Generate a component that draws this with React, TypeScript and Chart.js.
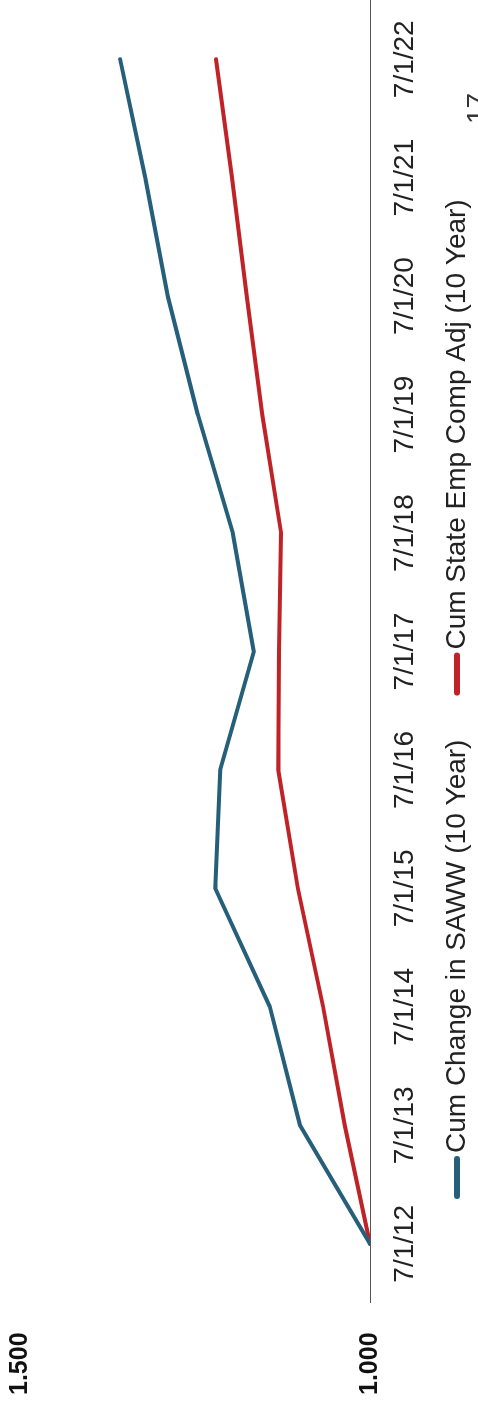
import React, { useEffect, useRef } from 'react';
import { Chart, registerables } from 'chart.js';

Chart.register(...registerables);

const categories = ['7/1/12', '7/1/13', '7/1/14', '7/1/15', '7/1/16', '7/1/17', '7/1/18', '7/1/19', '7/1/20', '7/1/21', '7/1/22'];
const sawwSeries = [1.0, 1.1, 1.143, 1.221, 1.214, 1.166, 1.196, 1.246, 1.289, 1.321, 1.357];
const empCompSeries = [1.0, 1.036, 1.067, 1.103, 1.131, 1.13, 1.127, 1.154, 1.176, 1.197, 1.22];
const seriesLabels = ['Cum Change in SAWW (10 Year)', 'Cum State Emp Comp Adj (10 Year)'];
const seriesColors = ['#255f79', '#bf2328'];
const yTicks = [1.0, 1.5];
const pageNumber = '17';

const FONT = '"Liberation Sans", Arial, sans-serif';

// Legend drawn like the scanned original: long rounded marker right against the text
const scanLegend = {
  id: 'scanLegend',
  afterDraw(chart: any) {
    const ctx = chart.ctx as CanvasRenderingContext2D;
    ctx.save();
    ctx.font = `28px ${FONT}`;
    ctx.textBaseline = 'middle';
    ctx.textAlign = 'left';
    let x = 205;
    const y = 457;
    chart.data.datasets.forEach((ds: any) => {
      ctx.strokeStyle = ds.borderColor;
      ctx.lineWidth = 6;
      ctx.lineCap = 'round';
      ctx.beginPath();
      ctx.moveTo(x, y);
      ctx.lineTo(x + 37, y);
      ctx.stroke();
      x += 43;
      ctx.fillStyle = '#222';
      ctx.fillText(ds.label, x, y);
      x += ctx.measureText(ds.label).width + 47;
    });
    ctx.restore();
  },
};

export default function App() {
  const canvasRef = useRef<HTMLCanvasElement | null>(null);

  useEffect(() => {
    const canvas = canvasRef.current;
    if (!canvas) return;
    const chart = new Chart(canvas, {
      type: 'line',
      data: {
        labels: categories,
        datasets: [
          {
            label: seriesLabels[0],
            data: sawwSeries,
            borderColor: seriesColors[0],
            backgroundColor: seriesColors[0],
            borderWidth: 4,
            pointRadius: 0,
            tension: 0,
            borderCapStyle: 'round',
            borderJoinStyle: 'round',
          },
          {
            label: seriesLabels[1],
            data: empCompSeries,
            borderColor: seriesColors[1],
            backgroundColor: seriesColors[1],
            borderWidth: 4,
            pointRadius: 0,
            tension: 0,
            borderCapStyle: 'round',
            borderJoinStyle: 'round',
          },
        ],
      },
      options: {
        animation: false,
        responsive: false,
        devicePixelRatio: 1,
        layout: { padding: { left: 6, right: 0, top: 20, bottom: 48 } },
        plugins: {
          legend: { display: false },
          tooltip: { enabled: false },
        },
        scales: {
          x: {
            offset: true,
            grid: { display: false, drawTicks: false },
            border: { display: true, color: '#555', width: 1 },
            ticks: {
              font: { family: FONT, size: 28 },
              color: '#222',
              padding: 18,
              maxRotation: 0,
              autoSkip: false,
            },
            afterFit: (s: any) => {
              s.height = 60;
            },
          },
          y: {
            min: 1,
            max: 1.5,
            afterBuildTicks: (s: any) => {
              s.ticks = yTicks.map((v) => ({ value: v }));
            },
            ticks: {
              callback: (v: any) => Number(v).toFixed(3),
              font: { family: FONT, size: 25, weight: 'bold' },
              color: '#111',
              padding: 0,
              crossAlign: 'far',
            },
            grid: { display: false, drawTicks: false },
            border: { display: false },
            afterFit: (s: any) => {
              s.width = 92;
            },
          },
        },
      },
      plugins: [scanLegend],
    });
    return () => chart.destroy();
  }, []);

  return (
    <div
      style={{
        position: 'fixed',
        left: 0,
        top: 0,
        width: 1401,
        height: 478,
        transformOrigin: '0 0',
        transform: 'translateY(1401px) rotate(-90deg)',
        overflow: 'hidden',
        background: '#fff',
      }}
    >
      <canvas ref={canvasRef} width={1401} height={478} style={{ display: 'block' }} />
      <span
        style={{
          position: 'absolute',
          left: 1277,
          top: 463,
          fontFamily: FONT,
          fontSize: 28,
          lineHeight: '28px',
          color: '#333',
        }}
      >
        {pageNumber}
      </span>
    </div>
  );
}
